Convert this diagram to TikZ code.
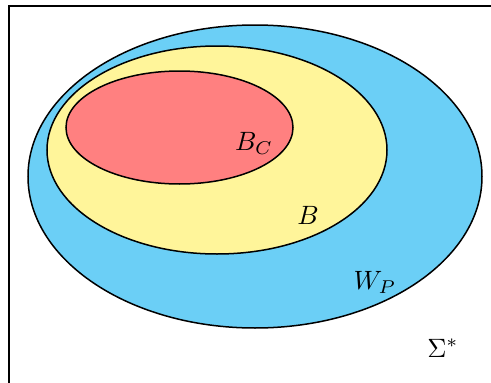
\documentclass[tikz,border=0pt]{standalone}
\definecolor{wpblue}{RGB}{107,207,246}
\definecolor{byellow}{RGB}{255,245,154}
\definecolor{bcred}{RGB}{255,128,128}
\newcommand{\bigtxt}[1]{\scalebox{2.65}{#1}}
\begin{document}
\begin{tikzpicture}[x=1pt,y=-1pt,
  setshape/.style={draw=black,line width=1.5pt},
  lbl/.style={inner sep=0pt}]
\useasboundingbox (0,0) rectangle (491,383);
\coordinate (tl) at (9,6);
\coordinate (tr) at (492,6);
\coordinate (bl) at (9,384);
\draw[line width=1.8pt] (tr) -- (tl) -- (bl);
\draw[setshape,fill=wpblue] (255,176.5) ellipse [x radius=227, y radius=151.5];
\draw[setshape,fill=byellow] (217,150) ellipse [x radius=170, y radius=104];
\draw[setshape,fill=bcred] (179.5,127.5) ellipse [x radius=113.5, y radius=56.5];
\node[lbl] (bc) at (254,143) {\bigtxt{$B_C$}};
\node[lbl] (b) at (308,215) {\bigtxt{$B$}};
\node[lbl] (wp) at (375,282) {\bigtxt{$W_P$}};
\node[lbl] (sigma) at (443,348) {\bigtxt{$\Sigma^*$}};
\end{tikzpicture}
\end{document}
